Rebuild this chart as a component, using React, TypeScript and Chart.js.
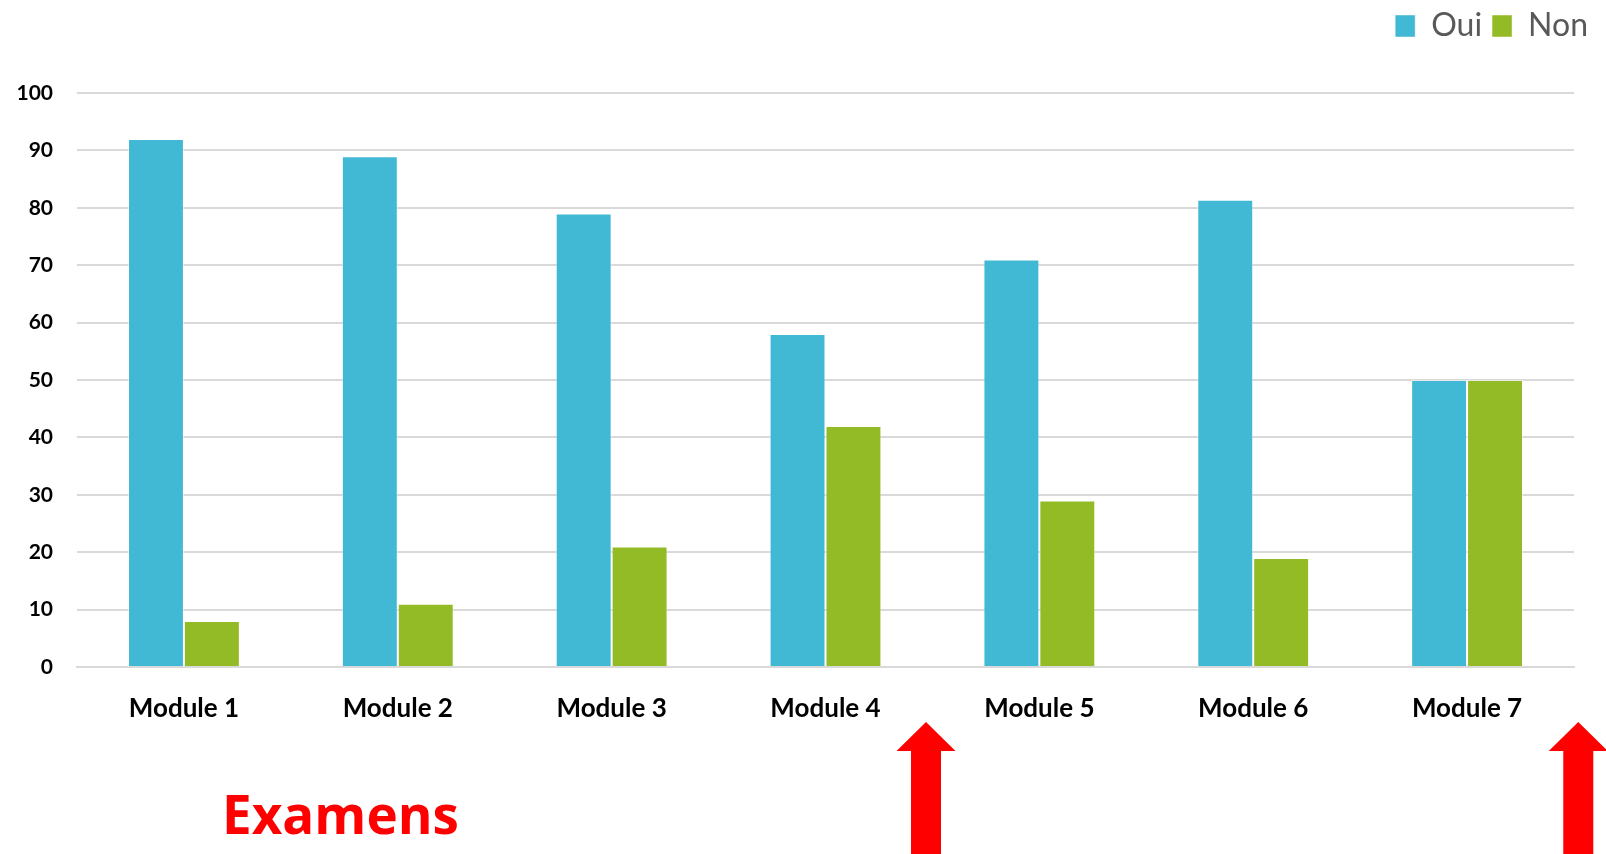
import { useEffect, useRef } from "react";
import { Chart, registerables } from "chart.js";

Chart.register(...registerables);

const categories = ["Module 1", "Module 2", "Module 3", "Module 4", "Module 5", "Module 6", "Module 7"];
const ouiValues = [92, 89, 79, 58, 71, 81.4, 50];
const nonValues = [8, 11, 21, 42, 29, 19, 50];
const seriesNames = ["Oui", "Non"];
const annotationText = "Examens";
const arrowPositions = [3.47, 6.52];

const OUI_COLOR = "#41B9D4";
const NON_COLOR = "#93BB26";

const legendSpacer = {
  id: "legendSpacer",
  afterInit(chart: any) {
    const legend = chart.legend;
    if (!legend || legend._patched) return;
    const fit = legend.fit;
    legend.fit = function () {
      fit.call(legend);
      legend.height += 41;
    };
    legend._patched = true;
  },
};

const overlay = {
  id: "overlay",
  afterDraw(chart: any) {
    const ctx = chart.ctx;
    const xs = chart.scales.x;
    ctx.save();
    ctx.fillStyle = "#FF0000";
    ctx.font = 'bold 53px "Open Sans"';
    ctx.textBaseline = "alphabetic";
    ctx.textAlign = "left";
    ctx.fillText(annotationText, 222, 834);
    for (const p of arrowPositions) {
      const cx = xs.getPixelForValue(p);
      ctx.beginPath();
      ctx.moveTo(cx, 722);
      ctx.lineTo(cx + 29.5, 751);
      ctx.lineTo(cx + 15, 751);
      ctx.lineTo(cx + 15, 860);
      ctx.lineTo(cx - 15, 860);
      ctx.lineTo(cx - 15, 751);
      ctx.lineTo(cx - 29.5, 751);
      ctx.closePath();
      ctx.fill();
    }
    ctx.restore();
  },
};

export default function App() {
  const ref = useRef<HTMLCanvasElement | null>(null);

  useEffect(() => {
    if (!ref.current) return;
    const chart = new Chart(ref.current, {
      type: "bar",
      data: {
        labels: categories,
        datasets: [
          {
            label: seriesNames[0],
            data: ouiValues,
            backgroundColor: OUI_COLOR,
            borderColor: "rgba(255,255,255,0.45)",
            borderWidth: 1,
            categoryPercentage: 0.523,
            barPercentage: 1.0,
          },
          {
            label: seriesNames[1],
            data: nonValues,
            backgroundColor: NON_COLOR,
            borderColor: "rgba(255,255,255,0.45)",
            borderWidth: 1,
            categoryPercentage: 0.523,
            barPercentage: 1.0,
          },
        ],
      },
      options: {
        responsive: false,
        animation: false,
        devicePixelRatio: 1,
        layout: { padding: { left: 0, right: 8, top: 0, bottom: 0 } },
        plugins: {
          legend: {
            position: "top",
            align: "end",
            labels: {
              boxWidth: 20,
              boxHeight: 22,
              padding: 10,
              color: "#595959",
              font: { family: "Lato", size: 32 },
            },
          },
          tooltip: { enabled: false },
        },
        scales: {
          x: {
            grid: { display: false, drawTicks: false },
            border: { display: true, color: "#D9D9D9", width: 2 },
            ticks: {
              color: "#000000",
              padding: 26,
              font: { family: "Lato", size: 26, weight: "bold" },
              maxRotation: 0,
            },
            afterFit(s: any) {
              s.height = 187;
            },
          },
          y: {
            min: 0,
            max: 100,
            ticks: {
              stepSize: 10,
              color: "#000000",
              padding: 24,
              font: { family: "Lato", size: 21, weight: "bold" },
            },
            grid: { color: "#D9D9D9", lineWidth: 2, drawTicks: false },
            border: { display: false },
            afterFit(s: any) {
              s.width = 77;
            },
          },
          y2: {
            position: "right",
            min: 0,
            max: 100,
            grid: { display: false, drawTicks: false },
            border: { display: false },
            ticks: { display: false },
            afterFit(s: any) {
              s.width = 24;
            },
          },
        },
      },
      plugins: [legendSpacer, overlay],
    });
    return () => chart.destroy();
  }, []);

  return (
    <div style={{ position: "fixed", left: 0, top: 0, width: 1606, height: 854, background: "#ffffff" }}>
      <canvas ref={ref} width={1606} height={854} style={{ display: "block" }} />
    </div>
  );
}
